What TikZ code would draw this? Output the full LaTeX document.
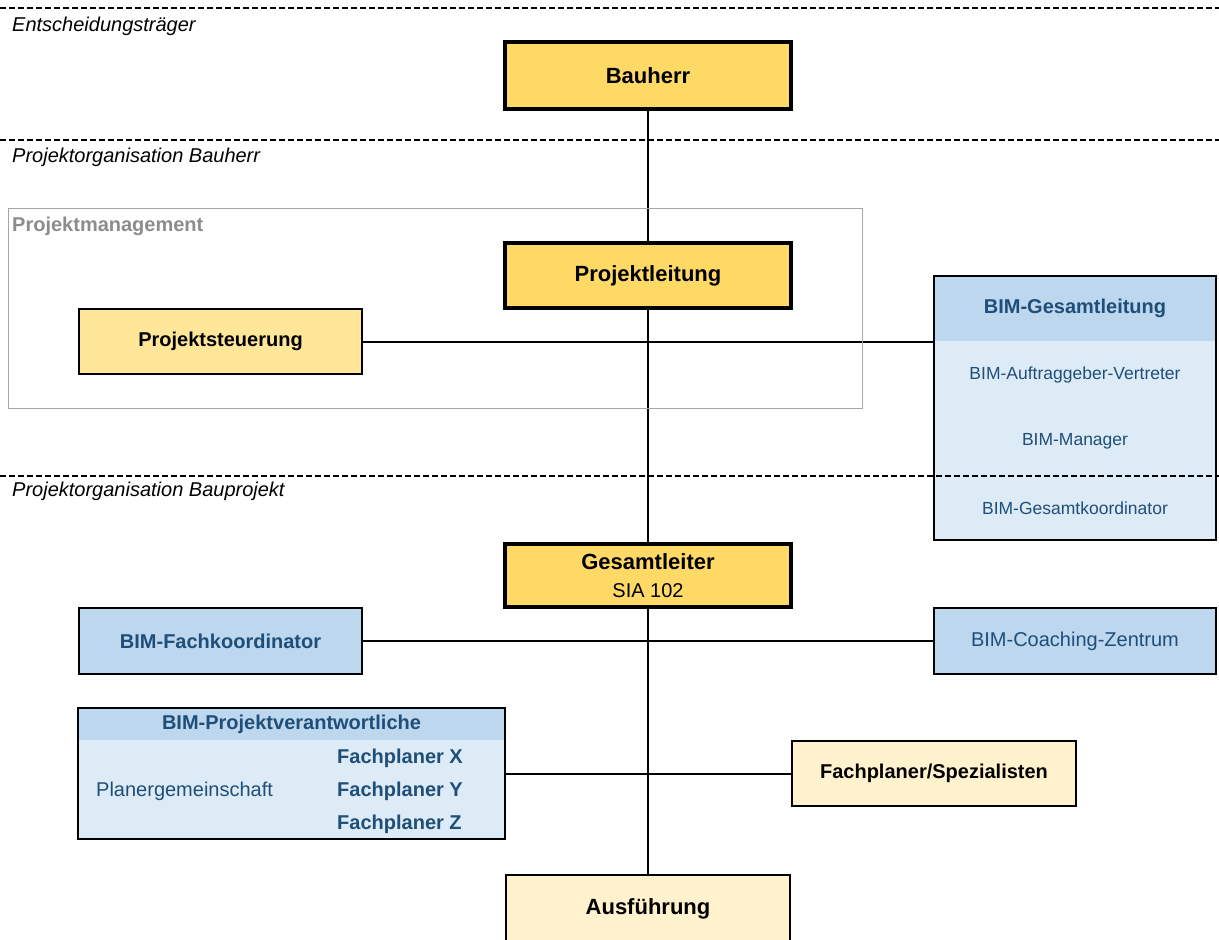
\documentclass[tikz,border=0pt]{standalone}
\usepackage{fontspec}
\setmainfont{Liberation Sans}
\usetikzlibrary{backgrounds}
\definecolor{mainyellow}{HTML}{FFD966}
\definecolor{midyellow}{HTML}{FFE699}
\definecolor{paleyellow}{HTML}{FFF2CC}
\definecolor{bluehead}{HTML}{BDD7EE}
\definecolor{bluelight}{HTML}{DDEBF7}
\definecolor{bluetext}{HTML}{1F4E79}
\definecolor{greyframe}{HTML}{A6A6A6}
\definecolor{greytext}{HTML}{8C8C8C}
\newcommand{\fsA}{\fontsize{22}{28}\selectfont}
\newcommand{\fsB}{\fontsize{20}{28}\selectfont}
\newcommand{\fsC}{\fontsize{17.5}{22}\selectfont}
\tikzset{
  mainbox/.style={draw=black, line width=4pt, fill=mainyellow, minimum width=286pt, inner sep=0pt, font=\fsA\bfseries},
  subbox/.style={draw=black, line width=2pt, inner sep=0pt, font=\fsB\bfseries},
  conn/.style={draw=black, line width=2pt},
  sepline/.style={draw=black, line width=2.2pt, dash pattern=on 6pt off 3pt},
  seclabel/.style={anchor=west, font=\fsB\itshape, inner sep=0pt},
  bluetxt/.style={text=bluetext, inner sep=0pt},
}
\begin{document}
\begin{tikzpicture}[x=1pt,y=-1pt]
\useasboundingbox (0,0) rectangle (1219,940);
% section separators and labels
\coordinate (s1a) at (0,8); \coordinate (s1b) at (1219,8);
\coordinate (s2a) at (0,140); \coordinate (s2b) at (1219,140);
\coordinate (s3a) at (0,476); \coordinate (s3b) at (1219,476);
\draw[sepline] (s1a) -- (s1b);
\draw[sepline] (s2a) -- (s2b);
\node[seclabel] (lab1) at (12,26.5) {Entscheidungsträger};
\node[seclabel] (lab2) at (12,157.5) {Projektorganisation Bauherr};
\node[seclabel] (lab3) at (12,491) {Projektorganisation Bauprojekt};
% Projektmanagement frame
\draw[greyframe, line width=1pt] (8,208) rectangle (862,408);
\node[anchor=west, inner sep=0pt, text=greytext, font=\fsB\bfseries] (pmlab) at (12,226) {Projektmanagement};
% main column
\node[mainbox, minimum height=67pt] (bauherr) at (648,75.5) {Bauherr};
\node[mainbox, minimum height=65pt] (pl) at (648,275.5) {Projektleitung};
\node[mainbox, minimum height=63pt, align=center, font=\fsB] (gl) at (648,575.5) {{\fsA\bfseries Gesamtleiter}\\SIA 102};
\node[subbox, fill=paleyellow, minimum width=284pt, minimum height=68pt, font=\fsA\bfseries] (ausf) at (648,909) {Ausführung};
% left/right boxes
\node[subbox, fill=midyellow, minimum width=283pt, minimum height=65pt] (ps) at (220.5,341.5) {Projektsteuerung};
\node[subbox, fill=bluehead, text=bluetext, minimum width=283pt, minimum height=66pt] (fk) at (220.5,641) {BIM-Fachkoordinator};
\node[subbox, fill=bluehead, text=bluetext, minimum width=282pt, minimum height=66pt, font=\fsB] (coach) at (1075,641) {BIM-Coaching-Zentrum};
\node[subbox, fill=paleyellow, minimum width=284pt, minimum height=65pt] (fs) at (934,773.5) {Fachplaner/Spezialisten};
% BIM-Gesamtleitung group
\node[fill=bluelight, minimum width=282pt, minimum height=264pt, inner sep=0pt] (bimg) at (1075,408) {};
\coordinate (bimgsplit) at (933,341);
\fill[bluehead] (bimg.north west) rectangle (bimgsplit -| bimg.east);
\draw[line width=2pt] (bimg.north west) rectangle (bimg.south east);
\node[bluetxt, font=\fsB\bfseries] (bimgt) at (1075,308) {BIM-Gesamtleitung};
\node[bluetxt, font=\fsC] (bimav) at (1075,375) {BIM-Auftraggeber-Vertreter};
\node[bluetxt, font=\fsC] (bimm) at (1075,441) {BIM-Manager};
\node[bluetxt, font=\fsC] (bimgk) at (1075,508) {BIM-Gesamtkoordinator};
% BIM-Projektverantwortliche group
\node[fill=bluelight, minimum width=427pt, minimum height=131pt, inner sep=0pt] (grp) at (291.5,773.5) {};
\coordinate (grpsplit) at (77,740);
\fill[bluehead] (grp.north west) rectangle (grpsplit -| grp.east);
\draw[line width=2pt] (grp.north west) rectangle (grp.south east);
\node[bluetxt, font=\fsB\bfseries] (grpt) at (291.5,724) {BIM-Projektverantwortliche};
\node[bluetxt, font=\fsB, anchor=west] (pg) at (96,791) {Planergemeinschaft};
\node[bluetxt, font=\fsB\bfseries, anchor=west] (fx) at (337,758) {Fachplaner X};
\node[bluetxt, font=\fsB\bfseries, anchor=west] (fy) at (337,791) {Fachplaner Y};
\node[bluetxt, font=\fsB\bfseries, anchor=west] (fz) at (337,824) {Fachplaner Z};
% third separator over everything
\draw[sepline] (s3a) -- (s3b);
% connectors
\begin{pgfonlayer}{background}
\draw[conn] (bauherr.south) -- (ausf.north);
\draw[conn] (ps.east) -- (ps.east -| bimg.west);
\draw[conn] (fk.east) -- (coach.west);
\draw[conn] (grp.east) -- (fs.west);
\end{pgfonlayer}
\end{tikzpicture}
\end{document}
